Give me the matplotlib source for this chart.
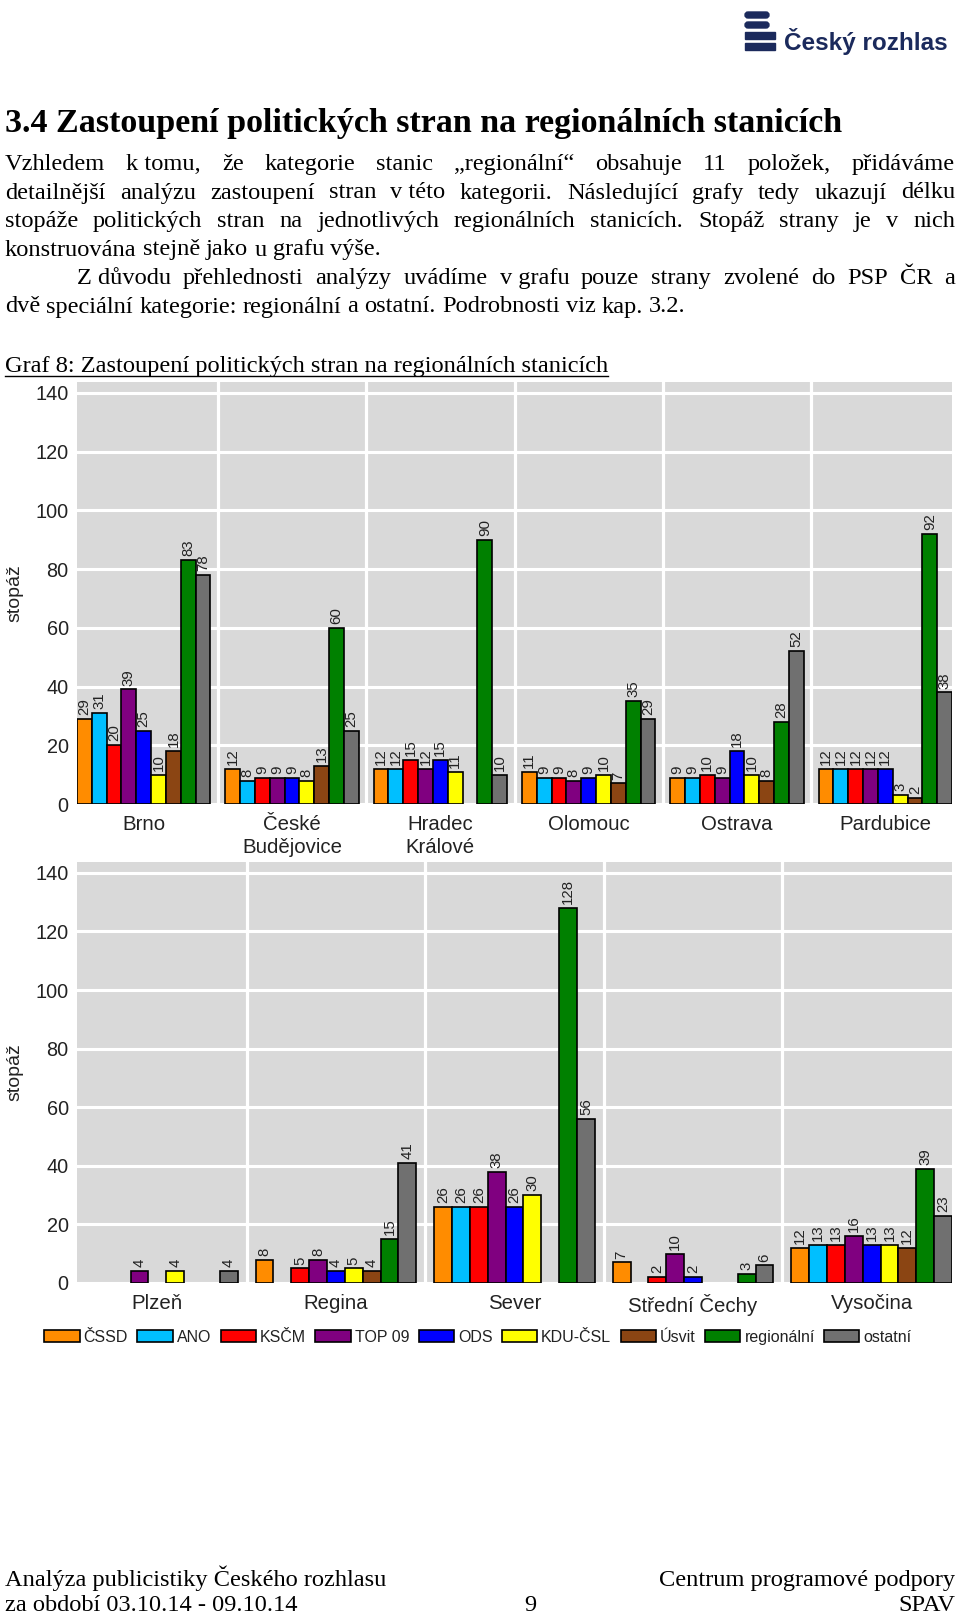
import matplotlib
matplotlib.use('Agg')
import matplotlib.pyplot as plt
from matplotlib.patches import Patch, Rectangle, FancyBboxPatch

# ---- data ----
parties = ['ČSSD', 'ANO', 'KSČM', 'TOP 09', 'ODS', 'KDU-ČSL', 'Úsvit', 'regionální', 'ostatní']
party_colors = ['#ff8c00', '#00bfff', '#ff0000', '#800080', '#0000ff',
                '#ffff00', '#8b4513', '#008000', '#707070']

stations1 = ['Brno', 'České\nBudějovice', 'Hradec\nKrálové', 'Olomouc', 'Ostrava', 'Pardubice']
brno = [29, 31, 20, 39, 25, 10, 18, 83, 78]
ceske_budejovice = [12, 8, 9, 9, 9, 8, 13, 60, 25]
hradec_kralove = [12, 12, 15, 12, 15, 11, 0, 90, 10]
olomouc = [11, 9, 9, 8, 9, 10, 7, 35, 29]
ostrava = [9, 9, 10, 9, 18, 10, 8, 28, 52]
pardubice = [12, 12, 12, 12, 12, 3, 2, 92, 38]

stations2 = ['Plzeň', 'Regina', 'Sever', 'Střední Čechy', 'Vysočina']
plzen = [0, 0, 0, 4, 0, 4, 0, 0, 4]
regina = [8, 0, 5, 8, 4, 5, 4, 15, 41]
sever = [26, 26, 26, 38, 26, 30, 0, 128, 56]
stredni_cechy = [7, 0, 2, 10, 2, 0, 0, 3, 6]
vysocina = [12, 13, 13, 16, 13, 13, 12, 39, 23]

yticks = [0, 20, 40, 60, 80, 100, 120, 140]

W, H = 960, 1617
SERIF = ['Liberation Serif', 'DejaVu Serif']
SANS = ['Liberation Sans', 'DejaVu Sans']
NAVY = '#1b2a5c'
BODY = 17.6

fig = plt.figure(figsize=(W / 100, H / 100), dpi=100)

# page layer in pixel coordinates
page = fig.add_axes([0, 0, 1, 1])
page.set_xlim(0, W)
page.set_ylim(H, 0)
page.axis('off')

# logo
page.add_patch(FancyBboxPatch((745, 12), 24, 6, boxstyle='round,pad=0,rounding_size=3', color=NAVY))
page.add_patch(FancyBboxPatch((745, 22), 24, 6, boxstyle='round,pad=0,rounding_size=3', color=NAVY))
page.add_patch(Rectangle((745, 32), 30, 7, color=NAVY))
page.add_patch(Rectangle((745, 43), 30, 7, color=NAVY))
page.text(784, 50, 'Český rozhlas', fontsize=17.5, fontweight='bold', family=SANS,
          color=NAVY, va='baseline', ha='left')

renderer = fig.canvas.get_renderer()


def justify(line, y, x0, x1=955, full=True, size=BODY):
    words = line.split('|')
    objs = [page.text(0, y, w, fontsize=size, family=SERIF, va='baseline') for w in words]
    widths = [t.get_window_extent(renderer).width for t in objs]
    if full and len(words) > 1:
        gap = (x1 - x0 - sum(widths)) / (len(words) - 1)
    else:
        gap = size * 100 / 72 * 0.25
    x = x0
    for t, w in zip(objs, widths):
        t.set_x(x)
        x += w + gap


page.text(5, 132, '3.4 Zastoupení politických stran na regionálních stanicích',
          fontsize=24.5, fontweight='bold', family=SERIF, va='baseline')

justify('Vzhledem|k tomu,|že|kategorie|stanic|„regionální“|obsahuje|11|položek,|přidáváme', 170, 5)
justify('detailnější|analýzu|zastoupení|stran|v této|kategorii.|Následující|grafy|tedy|ukazují|délku', 198.5, 5)
justify('stopáže|politických|stran|na|jednotlivých|regionálních|stanicích.|Stopáž|strany|je|v|nich', 227, 5)
justify('konstruována|stejně|jako|u|grafu|výše.', 255.5, 5, full=False)
justify('Z důvodu|přehlednosti|analýzy|uvádíme|v grafu|pouze|strany|zvolené|do|PSP|ČR|a', 284, 77)
justify('dvě|speciální|kategorie:|regionální|a|ostatní.|Podrobnosti|viz|kap.|3.2.', 312.5, 5, full=False)

cap = page.text(5, 372, 'Graf 8: Zastoupení politických stran na regionálních stanicích',
                fontsize=BODY, family=SERIF, va='baseline')
cw = cap.get_window_extent(renderer).width
page.plot([5, 5 + cw], [376, 376], color='black', lw=1.0)

# footer
page.text(5, 1586, 'Analýza publicistiky Českého rozhlasu', fontsize=BODY, family=SERIF, va='baseline')
page.text(5, 1611, 'za období 03.10.14 - 09.10.14', fontsize=BODY, family=SERIF, va='baseline')
page.text(530, 1611, '9', fontsize=BODY, family=SERIF, va='baseline', ha='center')
page.text(955, 1586, 'Centrum programové podpory', fontsize=BODY, family=SERIF, va='baseline', ha='right')
page.text(955, 1611, 'SPAV', fontsize=BODY, family=SERIF, va='baseline', ha='right')


def draw_chart(top, base, stations, values):
    ax = fig.add_axes([77 / W, 1 - base / H, (952 - 77) / W, (base - top) / H])
    ax.set_facecolor('#d9d9d9')
    n = len(stations)
    for g, vals in enumerate(values):
        for i, v in enumerate(vals):
            if v == 0:
                continue
            x = g * 10 + i
            ax.bar(x, v, width=1, align='edge', color=party_colors[i],
                   edgecolor='black', linewidth=1.2, zorder=3)
            ax.text(x + 0.5, v + 1.3, str(v), rotation=90, ha='center', va='bottom',
                    fontsize=10.8, family=SANS, color='#222222', zorder=4)
    for g in range(1, n):
        ax.axvline(g * 10 - 0.5, color='white', lw=2.3, zorder=2)
    ax.set_xlim(0, n * 10 - 1)
    ax.set_ylim(0, 143.7)
    ax.set_yticks(yticks)
    ax.set_yticklabels([str(t) for t in yticks], family=SANS, fontsize=14.3, color='#222222')
    ax.grid(axis='y', color='white', lw=2.2, zorder=1)
    ax.set_axisbelow(True)
    ax.set_xticks([g * 10 + 4.5 for g in range(n)])
    ax.set_xticklabels(stations, family=SANS, fontsize=14.7, color='#222222', linespacing=1.25)
    ax.tick_params(axis='y', length=0, pad=6)
    ax.tick_params(axis='x', length=0, pad=8)
    for s in ax.spines.values():
        s.set_visible(False)
    ax.text(-62 / 875, 0.5, 'stopáž', rotation=90, transform=ax.transAxes, ha='center',
            va='center', fontsize=14, family=SANS, color='#222222')
    return ax


draw_chart(382, 804, stations1,
           [brno, ceske_budejovice, hradec_kralove, olomouc, ostrava, pardubice])
draw_chart(862, 1283, stations2,
           [plzen, regina, sever, stredni_cechy, vysocina])

handles = [Patch(facecolor=c, edgecolor='black', linewidth=1.2) for c in party_colors]
leg = fig.legend(handles, parties, ncol=9, loc='center', bbox_to_anchor=(478 / W, 1 - 1337 / H),
                 frameon=False, handlelength=2.2, handleheight=0.8, handletextpad=0.25,
                 columnspacing=0.6, borderaxespad=0, borderpad=0,
                 prop={'family': SANS, 'size': 11.5})
for t in leg.get_texts():
    t.set_color('#222222')

fig.savefig('out.png', dpi=100)
